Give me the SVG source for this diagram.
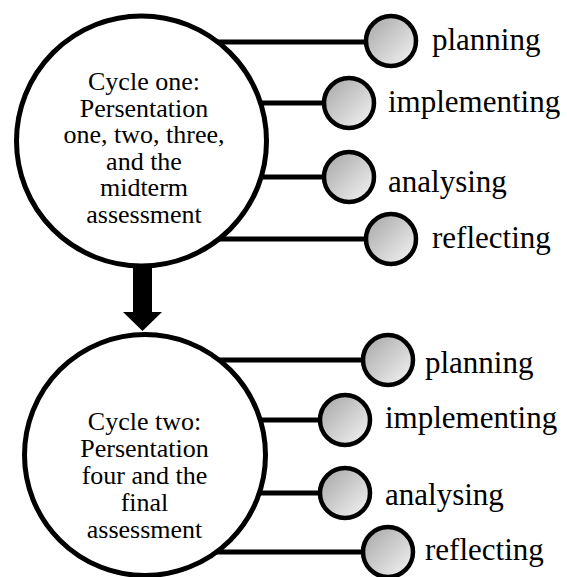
<svg xmlns="http://www.w3.org/2000/svg" width="567" height="577" viewBox="0 0 567 577">
<defs>
<linearGradient id="g" x1="0" y1="0" x2="1" y2="1">
<stop offset="0" stop-color="#a4a4a4"/>
<stop offset="1" stop-color="#f6f6f6"/>
</linearGradient>
<style>
.big{fill:#fff;stroke:#000;stroke-width:5}
.sm{fill:url(#g);stroke:#000;stroke-width:4.5}
.ln{stroke:#000;stroke-width:5;fill:none}
.t{font-family:"Liberation Serif","Times New Roman",serif;font-size:26px;fill:#000;text-anchor:middle}
.lb{font-family:"Liberation Serif","Times New Roman",serif;font-size:31px;fill:#000}
</style>
</defs>
<rect width="567" height="577" fill="#fff"/>
<g id="connectors">
<line class="ln" x1="200" y1="42" x2="391" y2="42"/>
<line class="ln" x1="200" y1="103" x2="349" y2="103"/>
<line class="ln" x1="200" y1="177" x2="349" y2="177"/>
<line class="ln" x1="200" y1="239" x2="391" y2="239"/>
<line class="ln" x1="200" y1="360" x2="388" y2="360"/>
<line class="ln" x1="200" y1="420" x2="345" y2="420"/>
<line class="ln" x1="200" y1="493" x2="345" y2="493"/>
<line class="ln" x1="200" y1="552" x2="388" y2="552"/>
<rect x="133" y="266" width="19" height="47" fill="#000"/>
<polygon points="123,312 162,312 142.5,331" fill="#000"/>
</g>
<g id="cycle1">
<circle class="big" cx="141.5" cy="141" r="125"/>
<text class="t" x="144" y="90">Cycle one:</text>
<text class="t" x="144" y="116.6">Persentation</text>
<text class="t" x="144" y="143.2">one, two, three,</text>
<text class="t" x="144" y="169.8">and the</text>
<text class="t" x="144" y="196.4">midterm</text>
<text class="t" x="144" y="223">assessment</text>
</g>
<g id="cycle2">
<circle class="big" cx="145" cy="455" r="120.5"/>
<text class="t" x="144.5" y="430">Cycle two:</text>
<text class="t" x="144.5" y="457">Persentation</text>
<text class="t" x="144.5" y="484">four and the</text>
<text class="t" x="144.5" y="511">final</text>
<text class="t" x="144.5" y="538">assessment</text>
</g>
<g id="c1-planning"><circle class="sm" cx="391" cy="41" r="25"/><text class="lb" x="432" y="50">planning</text></g>
<g id="c1-implementing"><circle class="sm" cx="349" cy="103" r="25"/><text class="lb" x="388" y="112">implementing</text></g>
<g id="c1-analysing"><circle class="sm" cx="349" cy="177" r="25"/><text class="lb" x="388" y="192">analysing</text></g>
<g id="c1-reflecting"><circle class="sm" cx="391" cy="239" r="25"/><text class="lb" x="432" y="248">reflecting</text></g>
<g id="c2-planning"><circle class="sm" cx="388" cy="360" r="25"/><text class="lb" x="425" y="373">planning</text></g>
<g id="c2-implementing"><circle class="sm" cx="345" cy="420" r="25"/><text class="lb" x="385" y="428">implementing</text></g>
<g id="c2-analysing"><circle class="sm" cx="345" cy="493" r="25"/><text class="lb" x="385" y="505">analysing</text></g>
<g id="c2-reflecting"><circle class="sm" cx="388" cy="552" r="25"/><text class="lb" x="425" y="560">reflecting</text></g>
</svg>
